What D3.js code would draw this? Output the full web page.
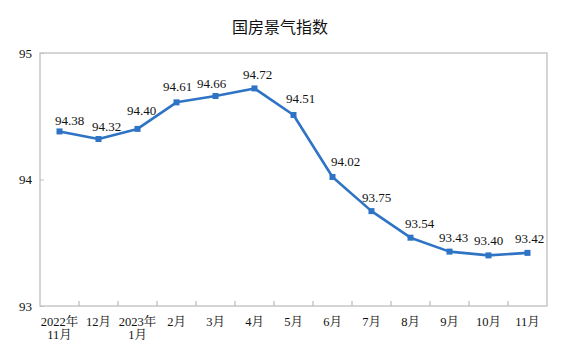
<!DOCTYPE html>
<html>
<head>
<meta charset="utf-8">
<script src="https://cdn.jsdelivr.net/npm/d3@7"></script>
<style>
  body { margin: 0; background: #fff; }
  svg { display: block; }
  .lbl { font-family: "Liberation Serif", "Times New Roman", "Noto Serif CJK SC", "Noto Sans CJK SC", serif; fill: #111; }
</style>
</head>
<body>
<svg id="chart" width="561" height="359"></svg>
<script>
"use strict";

// ===== Data =====
const categories = ["2022年\n11月", "12月", "2023年\n1月", "2月", "3月", "4月", "5月",
                    "6月", "7月", "8月", "9月", "10月", "11月"];
const values = [94.38, 94.32, 94.40, 94.61, 94.66, 94.72, 94.51, 94.02, 93.75, 93.54, 93.43, 93.40, 93.42];
const yTicks = [93, 94, 95];
// value label nudges (px) so labels sit like the original
const labelDx = [10, 8, 4, 1, -4, 3, 7, 13, 5, 9, 4, 0, 2];
const labelDy = [-11, -13, -18, -16, -13, -14, -16, -15, -14, -14, -14, -15, -14];

// ===== Layout =====
const margin = { left: 40, right: 14, top: 53, bottom: 53 };
const W = 561, H = 359;
const svg = d3.select("#chart");
const blue = "#2f74c4";
const grey = "#bfbfbf";

const x = d3.scaleBand()
  .domain(categories)
  .range([margin.left, W - margin.right]);
const y = d3.scaleLinear()
  .domain([93, 95])
  .range([H - margin.bottom, margin.top]);

// Title
svg.append("text")
  .attr("x", 280).attr("y", 33)
  .attr("text-anchor", "middle")
  .attr("font-family", "'Noto Sans CJK SC', sans-serif")
  .attr("font-size", 16)
  .attr("font-weight", 400)
  .attr("fill", "#111")
  .text("国房景气指数");

// Frame
svg.append("rect")
  .attr("x", margin.left).attr("y", margin.top)
  .attr("width", W - margin.right - margin.left)
  .attr("height", H - margin.bottom - margin.top)
  .attr("fill", "none").attr("stroke", grey).attr("stroke-width", 1.3);

// Y axis
const yAxis = svg.append("g")
  .attr("transform", `translate(${margin.left},0)`)
  .call(d3.axisRight(y).tickValues(yTicks).tickSize(4).tickFormat(d3.format("d")));
yAxis.select(".domain").remove();
yAxis.selectAll("line").attr("stroke", grey);
yAxis.selectAll("text")
  .attr("class", "lbl")
  .attr("x", -8)
  .attr("text-anchor", "end")
  .attr("font-size", 13);

// X axis: ticks between categories
const xAxisG = svg.append("g")
  .attr("transform", `translate(0,${H - margin.bottom})`);
xAxisG.selectAll("line.tk")
  .data(categories.slice(1))
  .join("line")
  .attr("class", "tk")
  .attr("x1", d => x(d)).attr("x2", d => x(d))
  .attr("y1", 0).attr("y2", -5)
  .attr("stroke", grey).attr("stroke-width", 1.3);

xAxisG.selectAll("text")
  .data(categories)
  .join("text")
  .attr("class", "lbl")
  .attr("font-size", 12.5)
  .attr("text-anchor", "middle")
  .attr("transform", d => `translate(${x(d) + x.bandwidth() / 2},20)`)
  .each(function(d) {
    const t = d3.select(this);
    d.split("\n").forEach((s, i) => {
      t.append("tspan").attr("x", 0).attr("y", i * 12.5).text(s);
    });
  });

// Line
const pts = values.map((v, i) => ({ c: categories[i], v, i }));
const cx = d => x(d.c) + x.bandwidth() / 2;

svg.append("path")
  .datum(pts)
  .attr("fill", "none")
  .attr("stroke", blue)
  .attr("stroke-width", 2.6)
  .attr("stroke-linejoin", "round")
  .attr("d", d3.line().x(cx).y(d => y(d.v)));

svg.selectAll("rect.mk")
  .data(pts)
  .join("rect")
  .attr("class", "mk")
  .attr("x", d => cx(d) - 3).attr("y", d => y(d.v) - 3)
  .attr("width", 6).attr("height", 6)
  .attr("fill", blue);

// Value labels
svg.selectAll("text.val")
  .data(pts)
  .join("text")
  .attr("class", "val lbl")
  .attr("font-size", 13)
  .attr("text-anchor", "middle")
  .attr("dominant-baseline", "central")
  .attr("x", d => cx(d) + labelDx[d.i])
  .attr("y", d => y(d.v) + labelDy[d.i])
  .text(d => d3.format(".2f")(d.v));
</script>
</body>
</html>
